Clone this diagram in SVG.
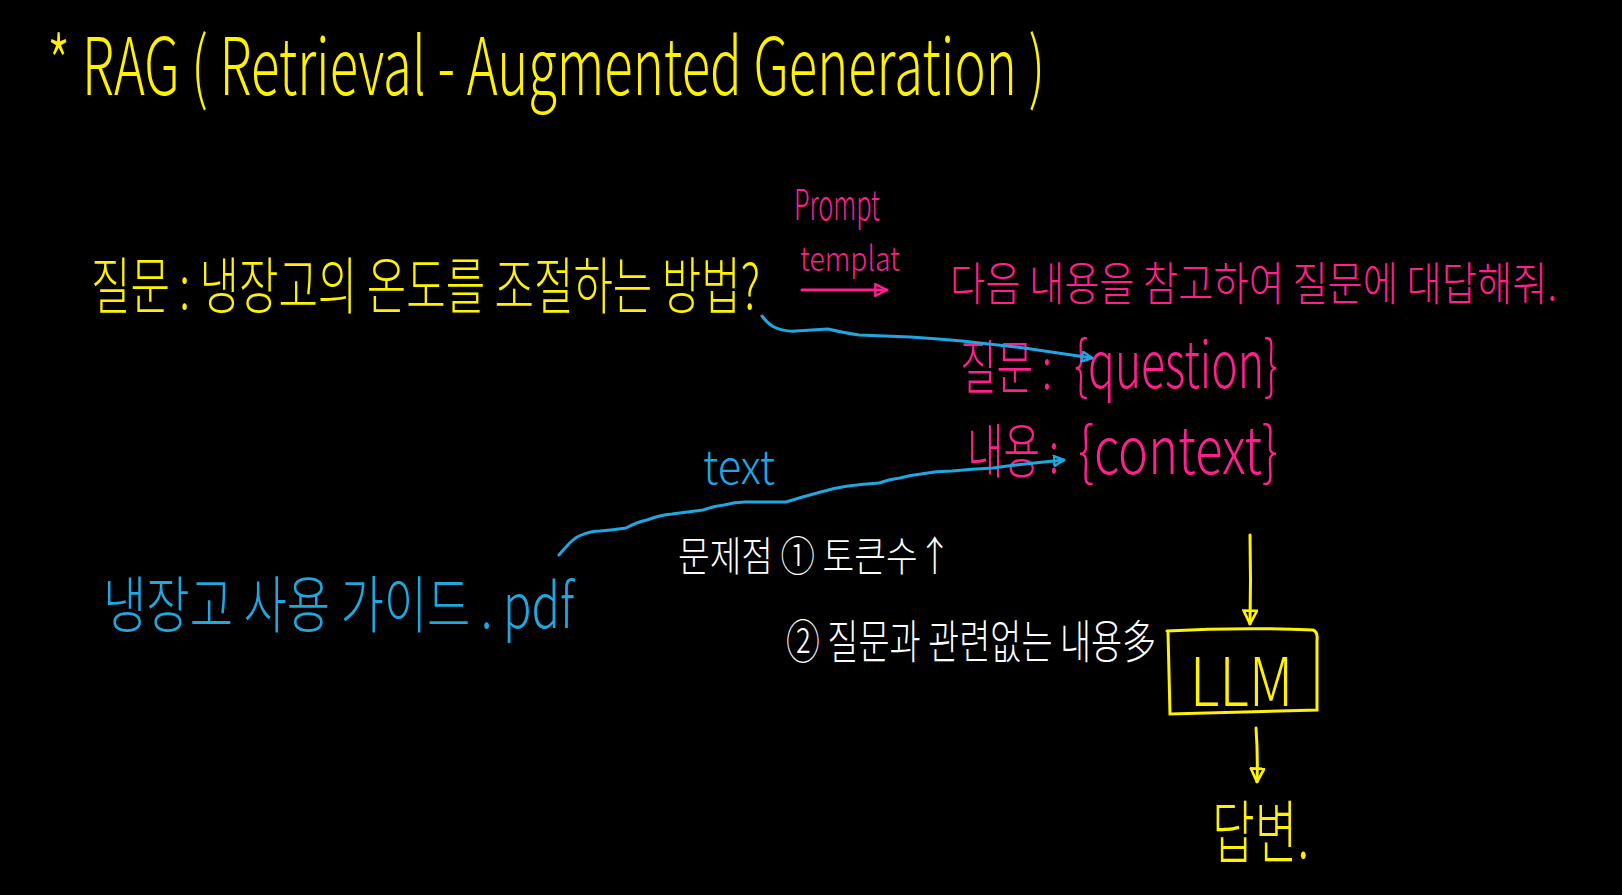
<svg xmlns="http://www.w3.org/2000/svg" width="1622" height="895" viewBox="0 0 1622 895">
<style>
text{font-family:"Noto Sans CJK KR","Noto Sans",sans-serif;font-weight:300}
.y{fill:#FFF200}.p{fill:#FF1F8E}.b{fill:#1EA7E1}.w{fill:#FFFFFF}
.cb{fill:none;stroke:#1EA7E1;stroke-width:3;stroke-linecap:round;stroke-linejoin:round}
.cy{fill:none;stroke:#FFF200;stroke-width:3;stroke-linecap:round}
.cp{fill:none;stroke:#FF1F8E;stroke-width:3;stroke-linecap:round}
</style>
<defs>
<marker id="mb" viewBox="0 0 12 12" refX="11" refY="6" markerWidth="12" markerHeight="12" markerUnits="userSpaceOnUse" orient="auto"><path d="M1,1 L11,6 L1,11 Z" fill="none" stroke="#1EA7E1" stroke-width="2.5"/></marker>
<marker id="my" viewBox="0 0 12 12" refX="11" refY="6" markerWidth="16" markerHeight="16" markerUnits="userSpaceOnUse" orient="auto"><path d="M1,1 L11,6 L1,11 Z" fill="none" stroke="#FFF200" stroke-width="2"/></marker>
<marker id="mp" viewBox="0 0 12 12" refX="11" refY="6" markerWidth="14" markerHeight="14" markerUnits="userSpaceOnUse" orient="auto"><path d="M1,1 L11,6 L1,11 Z" fill="none" stroke="#FF1F8E" stroke-width="2"/></marker>
</defs>
<rect x="0" y="0" width="1622" height="895" fill="#000000"/>

<g id="title"><text class="y" transform="translate(47,95) scale(1,1.45)" font-size="54.6" textLength="998" lengthAdjust="spacingAndGlyphs">* RAG ( Retrieval - Augmented  Generation )</text></g>

<g id="question"><text class="y" transform="translate(91,309) scale(1,1.55)" font-size="40" textLength="669" lengthAdjust="spacingAndGlyphs">질문 : 냉장고의 온도를 조절하는 방법?</text></g>

<g id="prompt-template">
<text class="p"><tspan x="794" y="220" font-size="42" textLength="86" lengthAdjust="spacingAndGlyphs">Prompt</tspan><tspan x="800" y="271" font-size="34" textLength="100" lengthAdjust="spacingAndGlyphs">templat</tspan></text>
</g>

<g id="template-body">
<text class="p" transform="translate(950,300) scale(1,1.3)" font-size="35.4" textLength="607" lengthAdjust="spacingAndGlyphs">다음 내용을 참고하여 질문에 대답해줘.</text>
<text class="p" transform="translate(960,389) scale(1,1.6)" font-size="37" textLength="92" lengthAdjust="spacingAndGlyphs">질문 :</text>
<text class="p" transform="translate(1074,388) scale(1,1.35)" font-size="48" textLength="204" lengthAdjust="spacingAndGlyphs">{question}</text>
<text class="p" transform="translate(967,473) scale(1,1.6)" font-size="37" textLength="92" lengthAdjust="spacingAndGlyphs">내용 :</text>
<text class="p" transform="translate(1078,474) scale(1,1.25)" font-size="52" textLength="200" lengthAdjust="spacingAndGlyphs">{context}</text>
</g>

<g id="pdf"><text class="b" transform="translate(103,628) scale(1,1.4)" font-size="44.6" textLength="471" lengthAdjust="spacingAndGlyphs">냉장고 사용 가이드 . pdf</text></g>

<g id="text-label"><text class="b" transform="translate(703,484) scale(1,1.1)" font-size="43" textLength="72" lengthAdjust="spacingAndGlyphs">text</text></g>

<g id="problems">
<text class="w" transform="translate(678,571) scale(1,1.2)" font-size="34" textLength="274" lengthAdjust="spacingAndGlyphs">문제점 ① 토큰수↑</text>
<text class="w" transform="translate(786,658) scale(1,1.45)" font-size="31.7" textLength="370" lengthAdjust="spacingAndGlyphs">② 질문과 관련없는 내용多</text>
</g>

<g id="llm">
<path class="cy" d="M1167,631 Q1240,627 1313,630 Q1318,632 1317,640 L1317,710 Q1240,712 1170,714 L1168,632"/>
<text class="y" transform="translate(1190,706) scale(1,1.2)" font-size="56" textLength="103" lengthAdjust="spacing">LLM</text>
</g>

<g id="answer"><text class="y" transform="translate(1212,858) scale(1,1.6)" font-size="43" textLength="97" lengthAdjust="spacingAndGlyphs">답변.</text></g>

<g id="connectors">
<path class="cp" d="M802,290 L887,290" marker-end="url(#mp)"/>
<path class="cb" d="M762,316 Q768,324 774,327 Q785,332 796,331 L828,329 Q845,333 859,335 L910,337 Q940,339 962,341 L1024,348 L1092,358" marker-end="url(#mb)"/>
<path class="cb" d="M559,555 Q563,550 567,546 Q573,539 579,536 Q590,531 600,531 Q613,530 626,528 Q637,522 647,520 Q660,515 672,514 Q688,512 703,510 Q714,506 724,505 Q735,502 745,502 L786,502 Q802,497 817,493 Q833,488 848,486 Q864,484 879,483 Q890,479 900,478 Q911,475 921,474 Q936,471 952,471 Q972,469 993,468 Q1014,465 1034,463 L1064,460" marker-end="url(#mb)"/>
<path class="cy" d="M1250,535 Q1251,580 1250,624" marker-end="url(#my)"/>
<path class="cy" d="M1256,728 Q1258,755 1257,782" marker-end="url(#my)"/>
</g>
</svg>
